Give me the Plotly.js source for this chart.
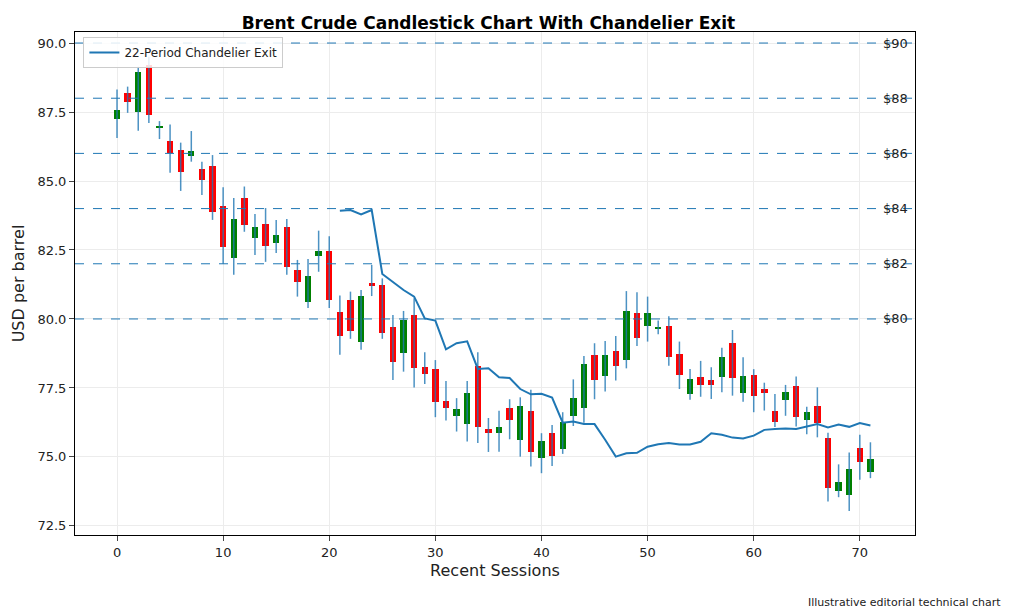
<!DOCTYPE html>
<html>
<head>
<meta charset="utf-8">
<script src="https://cdn.plot.ly/plotly-3.0.1.min.js"></script>
<style>body{margin:0}#plot{width:1024px;height:613px}</style>
</head>
<body>
<div id="plot"></div>
<script>
// candle data, one entry per session
var opens  = [87.25,88.2,87.5,89.2,86.93,86.45,86.12,85.92,85.43,85.53,84.09,82.2,84.4,82.92,83.44,82.74,83.33,81.78,80.6,82.28,82.46,80.27,
              80.69,79.18,81.32,81.23,79.7,78.75,80.14,78.25,78.19,77.04,76.49,76.19,78.3,76.0,75.88,76.76,75.62,76.68,74.95,75.86,
              75.28,76.49,76.79,78.7,77.93,78.85,78.51,80.21,79.75,79.64,79.76,78.73,77.27,77.9,77.79,77.91,79.12,77.31,77.97,77.46,
              76.67,77.07,77.56,76.32,76.85,75.7,73.77,73.62,75.34,74.45];
var closes = [87.57,87.85,88.95,87.4,87.0,86.03,85.34,86.08,85.04,83.89,82.6,83.62,83.4,83.34,82.66,83.04,81.9,81.35,81.57,82.46,80.69,79.38,
              79.57,80.83,81.2,79.48,78.45,79.96,78.21,78.0,77.0,76.79,76.75,77.33,76.08,75.86,76.08,76.34,76.85,75.19,75.56,75.04,
              76.28,77.15,78.36,77.79,78.7,78.31,80.29,79.3,80.21,79.72,78.63,77.97,77.83,77.62,77.62,78.63,77.87,77.95,77.22,77.33,
              76.26,77.34,76.46,76.62,76.22,73.87,74.08,74.57,74.83,74.92];
var highs  = [88.32,88.42,89.14,89.5,87.17,87.05,86.39,86.81,85.7,85.94,84.77,84.38,84.8,83.8,84.02,83.59,83.62,82.14,82.17,83.2,83.0,80.85,
              80.99,81.05,81.96,81.47,80.14,80.29,80.75,78.79,78.51,77.75,77.13,77.75,78.79,76.41,76.67,77.09,77.16,77.43,75.86,76.16,
              76.62,77.81,78.66,79.12,79.2,79.38,81.01,80.97,80.81,79.94,80.1,79.18,78.19,78.48,78.25,78.96,79.6,78.61,78.18,77.69,
              77.28,77.61,77.91,76.82,77.52,75.88,74.73,75.16,75.8,75.53];
var lows   = [86.56,87.47,86.82,87.1,86.52,85.3,84.64,85.7,84.49,83.59,82.0,81.6,83.16,82.32,82.07,82.39,81.6,80.81,80.4,81.71,80.4,78.7,
              79.28,78.88,80.83,79.28,77.79,78.09,77.52,77.64,76.44,76.32,75.92,75.56,75.5,75.18,75.19,75.64,75.01,74.65,74.41,74.67,
              75.11,76.12,76.24,77.09,77.37,77.77,78.21,79.02,79.18,79.45,78.3,77.46,77.07,77.18,77.1,77.34,77.22,77.0,76.62,76.68,
              76.08,76.49,76.1,75.82,75.71,73.38,73.54,73.04,74.17,74.23];
// 22-period chandelier exit, starts at session 21
var exitStart = 21;
var exitLine = [83.92,83.95,83.79,83.95,81.63,81.35,81.05,80.81,80.02,79.94,78.9,79.12,79.19,78.19,78.21,77.89,77.86,77.46,77.27,77.29,
                77.15,76.24,76.28,76.19,76.19,75.62,75.01,75.13,75.15,75.37,75.46,75.5,75.45,75.45,75.55,75.86,75.8,75.7,75.67,75.77,
                75.98,76.01,76.03,76.01,76.1,76.19,76.07,76.17,76.09,76.23,76.14];
var levels = [80, 82, 84, 86, 88, 90];

var sessions = opens.map(function(v, i){ return i; });

// bodies as bars
var bodyBase = [], bodyLen = [], bodyCol = [];
for (let i = 0; i < opens.length; i++){
  bodyBase.push(Math.min(opens[i], closes[i]));
  bodyLen.push(Math.abs(closes[i] - opens[i]));
  bodyCol.push(closes[i] >= opens[i] ? 'green' : 'red');
}
var bodies = {
  x: sessions, y: bodyLen, base: bodyBase, type: 'bar', width: 0.6,
  marker: {color: bodyCol, line: {width: 0}}, showlegend: false, hoverinfo: 'skip'
};

// wicks as one broken line
var wx = [], wy = [];
for (let i = 0; i < opens.length; i++){
  wx.push(i, i, null);
  wy.push(lows[i], highs[i], null);
}
var wicks = {
  x: wx, y: wy, mode: 'lines', line: {color: 'rgba(31,119,180,0.8)', width: 1.5},
  showlegend: false, hoverinfo: 'skip'
};

var exitX = exitLine.map(function(v, i){ return exitStart + i; });
var exitTrace = {
  x: exitX, y: exitLine, mode: 'lines', name: '22-Period Chandelier Exit',
  line: {color: '#1f77b4', width: 2}
};

var shapes = levels.map(function(l){
  return {type: 'line', xref: 'paper', x0: 0, x1: 1, y0: l, y1: l,
          line: {color: '#1f77b4', width: 1, dash: 'dash'}};
});
var annotations = levels.map(function(l){
  return {xref: 'paper', x: 0.96, xanchor: 'left', y: l, yanchor: 'middle',
          text: '$' + l, showarrow: false, font: {size: 13, color: '#222'}};
});
annotations.push({xref: 'paper', yref: 'paper', x: 1.105, xanchor: 'right', y: -0.135, yanchor: 'middle',
                  text: 'Illustrative editorial technical chart', showarrow: false, font: {size: 11, color: '#222'}});

var layout = {
  width: 1024, height: 613,
  margin: {l: 75, r: 109, t: 32, b: 78},
  font: {family: '"DejaVu Sans", sans-serif', size: 13, color: '#222'},
  title: {text: '<b>Brent Crude Candlestick Chart With Chandelier Exit</b>', x: 0.477, y: 0.972, font: {size: 17, color: '#000'}},
  xaxis: {range: [-3.96, 75.2], tickvals: [0,10,20,30,40,50,60,70], showgrid: true, gridcolor: '#ececec',
          zeroline: false, showline: true, mirror: true, linecolor: '#000', ticks: 'outside',
          title: {text: 'Recent Sessions', standoff: 6}},
  yaxis: {range: [72.17, 90.4], dtick: 2.5, tick0: 72.5, tickformat: '.1f', showgrid: true, gridcolor: '#ececec',
          zeroline: false, showline: true, mirror: true, linecolor: '#000', ticks: 'outside',
          title: {text: 'USD per barrel', standoff: 8}},
  legend: {x: 0.01, y: 0.99, xanchor: 'left', yanchor: 'top', bgcolor: 'rgba(255,255,255,0.85)',
           bordercolor: '#ccc', borderwidth: 1, font: {size: 12}},
  shapes: shapes, annotations: annotations,
  plot_bgcolor: '#fff', paper_bgcolor: '#fff', bargap: 0
};

Plotly.newPlot('plot', [bodies, wicks, exitTrace], layout, {displayModeBar: false});
</script>
</body>
</html>
